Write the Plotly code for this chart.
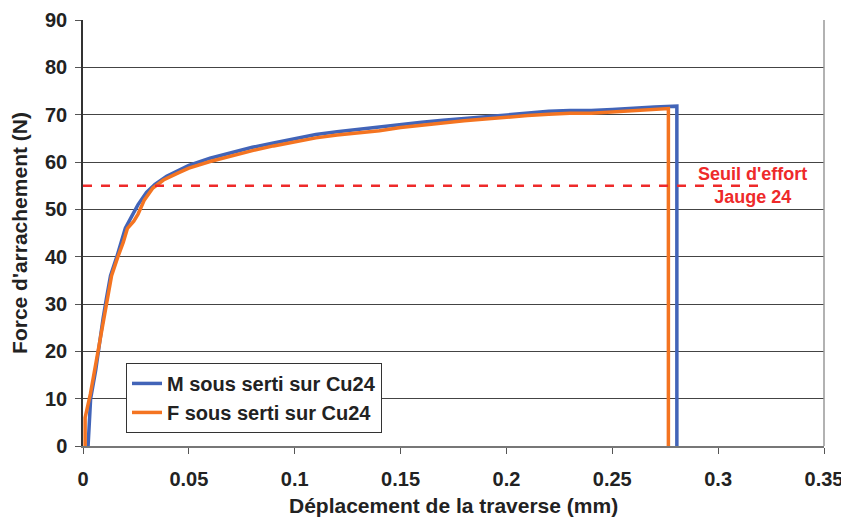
import plotly.graph_objects as go

# courbe M sous serti (bleu)
m_x = [0.0024, 0.003, 0.0036, 0.006, 0.0075, 0.0095, 0.011, 0.013, 0.016, 0.0185, 0.020, 0.023,
       0.026, 0.030, 0.034, 0.0395, 0.045, 0.050, 0.060, 0.070, 0.080, 0.090, 0.100, 0.110, 0.120,
       0.130, 0.140, 0.150, 0.160, 0.170, 0.180, 0.190, 0.200, 0.210, 0.220, 0.230, 0.240,
       0.250, 0.260, 0.270, 0.2805, 0.2805]
m_y = [0, 6, 10, 16, 21, 27, 31, 36, 40, 44, 46, 48.5,
       51, 53.6, 55.3, 57.0, 58.3, 59.3, 60.8, 62.0, 63.1, 64.0, 64.9, 65.8, 66.4,
       66.9, 67.4, 68.0, 68.4, 68.8, 69.2, 69.6, 70.0, 70.4, 70.7, 70.9, 70.9,
       71.1, 71.4, 71.6, 71.8, 0]

# courbe F sous serti (orange)
f_x = [0.001, 0.001, 0.0035, 0.0055, 0.0075, 0.0095, 0.0115, 0.0135, 0.0165, 0.019, 0.021, 0.024,
       0.026, 0.029, 0.033, 0.038, 0.045, 0.050, 0.060, 0.070, 0.080, 0.090, 0.100, 0.110,
       0.120, 0.130, 0.140, 0.150, 0.160, 0.170, 0.180, 0.190, 0.200, 0.210, 0.220, 0.230,
       0.240, 0.250, 0.260, 0.270, 0.2765, 0.2765]
f_y = [0, 6, 11, 16, 21, 27, 32, 36, 40, 43, 46, 47.5,
       49, 52, 54.5, 56.2, 57.7, 58.7, 60.1, 61.3, 62.4, 63.4, 64.3, 65.1,
       65.7, 66.1, 66.6, 67.3, 67.8, 68.2, 68.7, 69.1, 69.5, 69.8, 70.1, 70.3,
       70.3, 70.6, 70.9, 71.1, 71.3, 0]

seuil_x = [0, 0.322]
seuil_y = [55, 55]

x_ticks = [0, 0.05, 0.1, 0.15, 0.2, 0.25, 0.3, 0.35]
x_labels = ["0", "0.05", "0.1", "0.15", "0.2", "0.25", "0.3", "0.35"]
y_ticks = [0, 10, 20, 30, 40, 50, 60, 70, 80, 90]

FONT = "Liberation Sans, Arial, sans-serif"

fig = go.Figure()
fig.add_trace(go.Scatter(x=m_x, y=m_y, mode="lines", name="<b>M sous serti sur Cu24</b>",
                         line=dict(color="#4264B8", width=3.5)))
fig.add_trace(go.Scatter(x=f_x, y=f_y, mode="lines", name="<b>F sous serti sur Cu24</b>",
                         line=dict(color="#F47421", width=3.5)))
fig.add_trace(go.Scatter(x=seuil_x, y=seuil_y, mode="lines", showlegend=False,
                         line=dict(color="#EE2A2A", width=2.5, dash="dash")))

fig.add_annotation(x=0.316, y=55, text="<b>Seuil d'effort<br>Jauge 24</b>", showarrow=False,
                   font=dict(family=FONT, size=18, color="#EE2A2A"),
                   xanchor="center", yanchor="middle")
# titre de l'axe x posé en annotation
fig.add_annotation(x=0.5, y=0, xref="paper", yref="paper", yshift=-59,
                   text="<b>Déplacement de la traverse (mm)</b>", showarrow=False,
                   font=dict(family=FONT, size=21, color="#222222"),
                   xanchor="center", yanchor="middle")

# la page ajoute 8 px de marge au corps : marges compensées
fig.update_layout(
    width=849, height=517,
    margin=dict(l=75, r=33, t=12, b=79),
    plot_bgcolor="white", paper_bgcolor="white",
    font=dict(family=FONT, size=19, color="#222222"),
    showlegend=True,
    legend=dict(x=0.058, y=0.195, xanchor="left", yanchor="top",
                bgcolor="white", bordercolor="#333333", borderwidth=1,
                font=dict(size=20), itemwidth=30, tracegroupgap=0),
)
fig.update_xaxes(range=[0, 0.35], tickvals=x_ticks, ticktext=["<b>%s</b>" % t for t in x_labels],
                 tickfont=dict(size=20), automargin=False, ticklabelstandoff=8,
                 showgrid=False, zeroline=False, showline=True, linecolor="#777777", linewidth=1.5,
                 ticks="outside", ticklen=6, tickcolor="#555555")
fig.update_yaxes(range=[0, 90], tickvals=y_ticks, ticktext=["<b>%d</b>" % t for t in y_ticks],
                 tickfont=dict(size=20), automargin=False, ticklabelstandoff=4,
                 showgrid=True, gridcolor="#444444", gridwidth=1, zeroline=False,
                 showline=True, linecolor="#333333", linewidth=1.5,
                 ticks="outside", ticklen=6, tickcolor="#555555",
                 title=dict(text="<b>Force d'arrachement (N)</b>", font=dict(size=21)))
# bord droit du cadre
fig.add_shape(type="line", xref="paper", yref="paper", x0=1, x1=1, y0=0, y1=1,
              line=dict(color="#999999", width=1.5))

fig.write_html("out.html")
